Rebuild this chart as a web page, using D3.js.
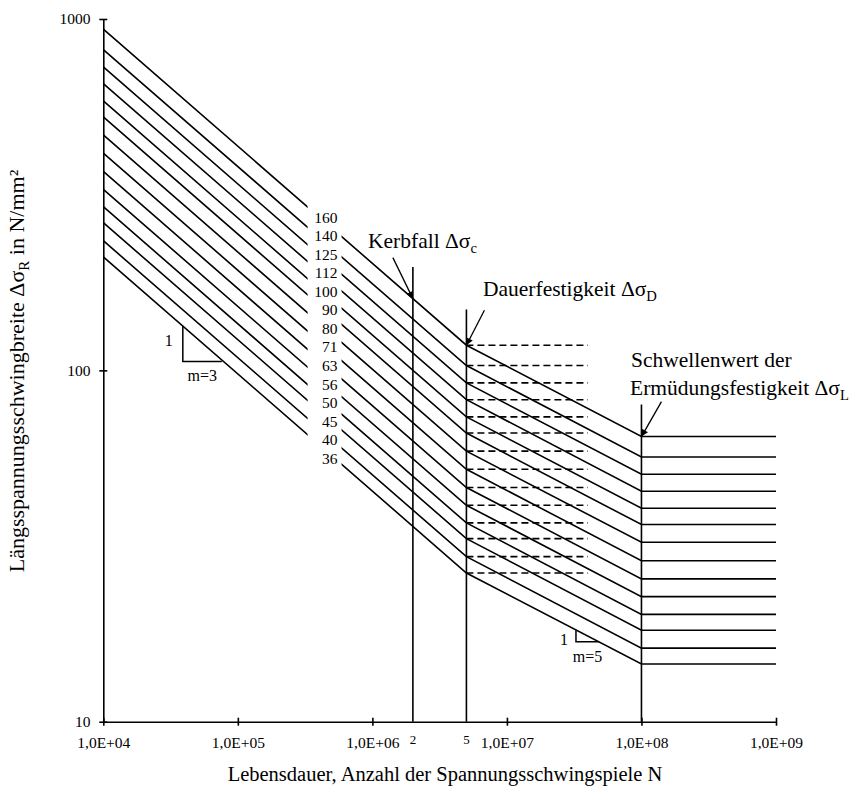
<!DOCTYPE html>
<html>
<head>
<meta charset="utf-8">
<script src="https://cdn.jsdelivr.net/npm/d3@7"></script>
<style>
body { margin: 0; background: #fff; }
svg text { font-family: "Liberation Serif", "Times New Roman", serif; fill: #000; }
</style>
</head>
<body>
<svg id="chart"></svg>
<script>
// detail categories (Kerbfall) in N/mm²
const categories = [160, 140, 125, 112, 100, 90, 80, 71, 63, 56, 50, 45, 40, 36];
// stress range at N = 1E+04, where the lines start
const sigmaStart = [935.7, 818.7, 731.0, 655.0, 584.8, 526.3, 467.8, 415.2, 368.4, 327.5, 292.4, 263.2, 233.9, 210.5];
// Dauerfestigkeit at N = 5E+06
const sigmaD = [117.9, 103.2, 92.1, 82.5, 73.7, 66.3, 58.9, 52.3, 46.4, 41.3, 36.8, 33.2, 29.5, 26.5];
// Schwellenwert at N = 1E+08
const sigmaL = [64.8, 56.7, 50.6, 45.3, 40.5, 36.4, 32.4, 28.7, 25.5, 22.7, 20.2, 18.2, 16.2, 14.6];

const nStart = 1e4, nD = 5e6, nL = 1e8, nEnd = 1e9;
const nGap = [3.3e5, 5.9e5];   // lines are broken here for the category labels
const nLabel = 5.5e5;
const nDashEnd = 4e7;

const xTicks = [1e4, 1e5, 1e6, 1e7, 1e8, 1e9];
const xTickLabels = ["1,0E+04", "1,0E+05", "1,0E+06", "1,0E+07", "1,0E+08", "1,0E+09"];
const yTicks = [10, 100, 1000];

// vertical lines: N, stress where they stop, small label under the axis
const markerN = [2e6, 5e6, 1e8];
const markerTop = [197, 149, 80];
const markerLabels = ["2", "5", ""];

// slope triangles (N range, stress at both corners)
const slope3N = [3.9e4, 7.6e4], slope3S = [134, 106];
const slope5N = [3.26e7, 4.83e7], slope5S = [18.2, 16.9];

const width = 862, height = 796;

const svg = d3.select("#chart")
    .attr("width", width)
    .attr("height", height);

const x = d3.scaleLog().domain([1e4, 1e9]).range([103.3, 776]);
const y = d3.scaleLog().domain([10, 1000]).range([721.7, 19]);

svg.append("defs").append("marker")
    .attr("id", "arrow")
    .attr("viewBox", "0 0 10 10")
    .attr("refX", 10).attr("refY", 5)
    .attr("markerWidth", 12).attr("markerHeight", 7)
    .attr("markerUnits", "userSpaceOnUse")
    .attr("orient", "auto")
    .append("path").attr("d", "M0,0L10,5L0,10z").attr("fill", "#000");

// S-N lines
const line = d3.line().x(d => x(d[0])).y(d => y(d[1]));
const curves = categories.map((c, i) => [
    [nStart, sigmaStart[i]], [nD, sigmaD[i]], [nL, sigmaL[i]], [nEnd, sigmaL[i]]
]);
svg.append("g").selectAll("path")
    .data(curves)
    .join("path")
    .attr("d", line)
    .attr("fill", "none")
    .attr("stroke", "#000")
    .attr("stroke-width", 1.6);

// dashed Dauerfestigkeit lines
svg.append("g").selectAll("line")
    .data(sigmaD)
    .join("line")
    .attr("x1", x(nD)).attr("x2", x(nDashEnd))
    .attr("y1", d => y(d)).attr("y2", d => y(d))
    .attr("stroke", "#000")
    .attr("stroke-width", 1.6)
    .attr("stroke-dasharray", "7,4");

// gap in the lines where the labels sit
svg.append("rect")
    .attr("x", x(nGap[0])).attr("width", x(nGap[1]) - x(nGap[0]))
    .attr("y", y(330)).attr("height", y(48) - y(330))
    .attr("fill", "#fff");

const labelY = d3.scalePoint().domain(categories).range([222.5, 463.8]);
svg.append("g").selectAll("text")
    .data(categories)
    .join("text")
    .attr("x", x(nLabel))
    .attr("y", d => labelY(d))
    .attr("text-anchor", "end")
    .attr("font-size", 15.5)
    .text(d => d);

// vertical lines at 2E+06, 5E+06, 1E+08
svg.append("g").selectAll("line")
    .data(markerN)
    .join("line")
    .attr("x1", d => x(d)).attr("x2", d => x(d))
    .attr("y1", (d, i) => y(markerTop[i])).attr("y2", y(10))
    .attr("stroke", "#000")
    .attr("stroke-width", 1.6);
svg.append("g").selectAll("text")
    .data(markerN)
    .join("text")
    .attr("x", d => x(d))
    .attr("y", 744)
    .attr("text-anchor", "middle")
    .attr("font-size", 13)
    .text((d, i) => markerLabels[i]);

// axes
const gx = svg.append("g")
    .attr("transform", `translate(0,${y(10)})`)
    .call(d3.axisBottom(x).tickValues(xTicks).tickFormat((d, i) => xTickLabels[i])
        .tickSizeInner(4).tickSizeOuter(0).tickPadding(11.6))
    .attr("font-size", 15.5);
gx.select(".domain").attr("stroke-width", 1.6);
gx.selectAll(".tick line").attr("y1", -4).attr("stroke-width", 1.6);

const gy = svg.append("g")
    .attr("transform", `translate(${x(1e4)},0)`)
    .call(d3.axisLeft(y).tickValues(yTicks).tickFormat(d3.format("d"))
        .tickSizeInner(4).tickSizeOuter(0).tickPadding(8.8))
    .attr("font-size", 15.5);
gy.select(".domain").attr("stroke-width", 1.6);
gy.selectAll(".tick line").attr("x1", 4).attr("stroke-width", 1.6);

// slope triangles
function slopeTriangle(nn, ss, labelOne, labelM, oneX, oneY) {
    svg.append("path")
        .attr("d", `M${x(nn[0])},${y(ss[0])}V${y(ss[1])}H${x(nn[1])}`)
        .attr("fill", "none").attr("stroke", "#000").attr("stroke-width", 1.5);
    svg.append("text").attr("x", x(nn[0]) + oneX).attr("y", y(ss[1]) + oneY)
        .attr("text-anchor", "middle").attr("font-size", 16).text(labelOne);
    svg.append("text").attr("x", (x(nn[0]) + x(nn[1])) / 2).attr("y", y(ss[1]) + 20)
        .attr("text-anchor", "middle").attr("font-size", 16).text(labelM);
}
slopeTriangle(slope3N, slope3S, "1", "m=3", -14, -15);
slopeTriangle(slope5N, slope5S, "1", "m=5", -12, 3);

// annotations with arrows
function subLabel(x0, y0, main, sub, size) {
    const t = svg.append("text").attr("x", x0).attr("y", y0).attr("font-size", size);
    t.append("tspan").text(main);
    t.append("tspan").attr("dy", size * 0.25).attr("font-size", size * 0.68).text(sub);
    return t;
}
function arrow(tipN, tipS, dx, dy) {
    svg.append("line")
        .attr("x1", x(tipN) + dx).attr("y1", y(tipS) + dy)
        .attr("x2", x(tipN)).attr("y2", y(tipS))
        .attr("stroke", "#000").attr("stroke-width", 1.3)
        .attr("marker-end", "url(#arrow)");
}

subLabel(368, 247.5, "Kerbfall Δσ", "c", 21.5);
arrow(2e6, categories[0], -20, -41);

subLabel(483, 296, "Dauerfestigkeit Δσ", "D", 21.5);
arrow(nD, sigmaD[0], 18, -35);

svg.append("text").attr("x", 631).attr("y", 367).attr("font-size", 21.5).text("Schwellenwert der");
subLabel(630, 395, "Ermüdungsfestigkeit Δσ", "L", 21.5);
arrow(nL, sigmaL[0], 20, -35);

// axis titles
svg.append("text")
    .attr("x", 445).attr("y", 781)
    .attr("text-anchor", "middle")
    .attr("font-size", 20.5)
    .text("Lebensdauer, Anzahl der Spannungsschwingspiele N");

const yt = svg.append("text")
    .attr("transform", "translate(24,371) rotate(-90)")
    .attr("text-anchor", "middle")
    .attr("font-size", 22);
yt.append("tspan").text("Längsspannungsschwingbreite Δσ");
yt.append("tspan").attr("dy", 5).attr("font-size", 15).text("R");
yt.append("tspan").attr("dy", -5).text(" in N/mm²");
</script>
</body>
</html>
